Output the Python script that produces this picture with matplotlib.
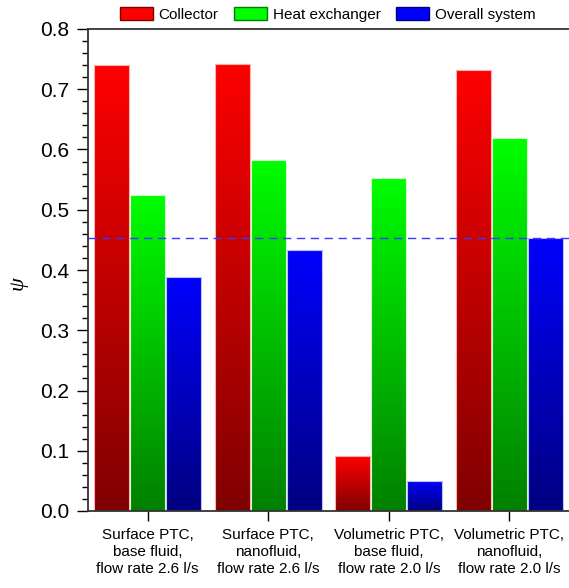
import numpy as np
import matplotlib
matplotlib.use('Agg')
import matplotlib.pyplot as plt
from matplotlib.colors import LinearSegmentedColormap
from matplotlib.patches import Patch
from matplotlib.ticker import MultipleLocator, FormatStrFormatter

plt.rcParams['font.family'] = ['Liberation Sans', 'DejaVu Sans']

categories = ['Surface PTC,\nbase fluid,\nflow rate 2.6 l/s',
              'Surface PTC,\nnanofluid,\nflow rate 2.6 l/s',
              'Volumetric PTC,\nbase fluid,\nflow rate 2.0 l/s',
              'Volumetric PTC,\nnanofluid,\nflow rate 2.0 l/s']
series = ['Collector', 'Heat exchanger', 'Overall system']
collector = [0.740, 0.742, 0.091, 0.732]
heat_exchanger = [0.524, 0.583, 0.553, 0.619]
overall = [0.388, 0.433, 0.050, 0.453]
reference_line = 0.453

# top colour, bottom colour of each gradient
grads = [('#ff0000', '#800000'), ('#00ff00', '#008000'), ('#0000ff', '#000080')]
edges = ['#ffb0b0', '#d0ffd0', '#c0c0ff']

fig = plt.figure(figsize=(5.69, 5.88), dpi=100)
ax = fig.add_axes([87.5 / 569, 1 - 511 / 588, 482 / 569, 482 / 588])

x = np.arange(len(categories))
w = 0.3
grad = np.linspace(0, 1, 256).reshape(-1, 1)

for i, vals in enumerate([collector, heat_exchanger, overall]):
    bars = ax.bar(x + (i - 1) * w, vals, width=w * 0.97, facecolor='none',
                  edgecolor=edges[i], linewidth=0.8, zorder=3)
    cmap = LinearSegmentedColormap.from_list('g%d' % i, [grads[i][1], grads[i][0]])
    for b in bars:
        x0, h = b.get_x(), b.get_height()
        im = ax.imshow(grad, cmap=cmap, origin='lower', aspect='auto',
                       extent=[x0 - 0.01, x0 + b.get_width() + 0.01, 0, h * 1.01], zorder=2)
        im.set_clip_path(b)

ax.axhline(reference_line, color='#3a3aff', lw=1.0, dashes=(6, 4), zorder=4)

ax.set_xlim(-0.5, 3.5)
ax.set_ylim(0, 0.8)
ax.set_xticks(x)
ax.set_xticklabels(categories, fontsize=11, linespacing=1.3)
ax.yaxis.set_major_locator(MultipleLocator(0.1))
ax.yaxis.set_minor_locator(MultipleLocator(0.02))
ax.yaxis.set_major_formatter(FormatStrFormatter('%.1f'))
ax.tick_params(axis='y', which='major', length=8, width=1, labelsize=15, pad=5)
ax.tick_params(axis='y', which='minor', length=4.5, width=1)
ax.tick_params(axis='x', length=7, width=1, pad=5)
ax.spines['right'].set_visible(False)
for s in ['left', 'bottom', 'top']:
    ax.spines[s].set_linewidth(1.3)
    ax.spines[s].set_color('#333333')
    ax.spines[s].set_zorder(5)

ax.set_ylabel('ψ', fontsize=16, rotation=90, family='Liberation Serif', style='italic')
ax.yaxis.set_label_coords(-0.125, 0.473)

handles = [Patch(facecolor=grads[i][0], edgecolor=grads[i][1], linewidth=1.0) for i in range(3)]
fig.legend(handles, series, loc='center', bbox_to_anchor=(0.576, 0.976), ncol=3,
           frameon=False, fontsize=11, handlelength=2.15, handleheight=1.0,
           handletextpad=0.4, columnspacing=1.0, borderaxespad=0)

fig.savefig('out.png', dpi=100)
